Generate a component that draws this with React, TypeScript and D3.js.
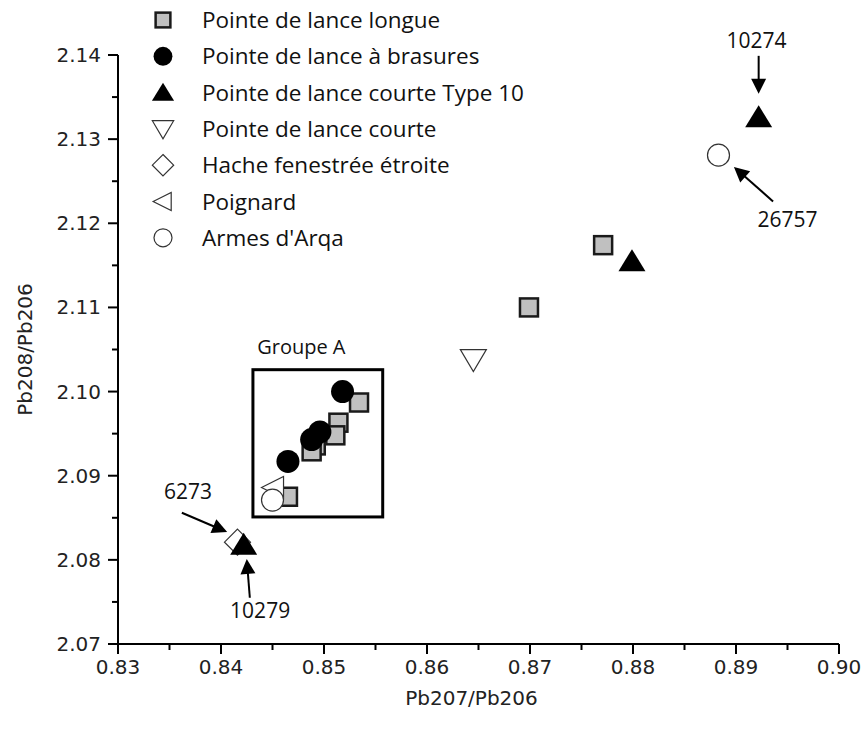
import React from "react";
import * as d3 from "d3";

// ---- data ----
const longueX = [0.8771, 0.8699, 0.8534, 0.8514, 0.8511, 0.8492, 0.8488, 0.8465];
const longueY = [2.1174, 2.11, 2.0987, 2.0963, 2.0948, 2.0936, 2.0929, 2.0875];
const brasuresX = [0.8518, 0.8496, 0.8488, 0.8465];
const brasuresY = [2.1, 2.0952, 2.0943, 2.0917];
const type10X = [0.8922, 0.8799, 0.8422];
const type10Y = [2.1326, 2.1155, 2.0818];
const courteX = [0.8645];
const courteY = [2.1038];
const hacheX = [0.8416];
const hacheY = [2.0821];
const poignardX = [0.8451];
const poignardY = [2.0886];
const arqaX = [0.8883, 0.845];
const arqaY = [2.1281, 2.0871];

const xTicks = [0.83, 0.84, 0.85, 0.86, 0.87, 0.88, 0.89, 0.9];
const yTicks = [2.07, 2.08, 2.09, 2.1, 2.11, 2.12, 2.13, 2.14];
const xMinor = [0.835, 0.845, 0.855, 0.865, 0.875, 0.885, 0.895];
const yMinor = [2.075, 2.085, 2.095, 2.105, 2.115, 2.125, 2.135];

const legendLabels = [
  "Pointe de lance longue",
  "Pointe de lance à brasures",
  "Pointe de lance courte Type 10",
  "Pointe de lance courte",
  "Hache fenestrée étroite",
  "Poignard",
  "Armes d'Arqa",
];
const legendKinds = ["square", "circle", "triUp", "triDown", "diamond", "triLeft", "hollowCircle"];

const groupBox = { x0: 0.8431, x1: 0.8557, y0: 2.0851, y1: 2.1026 };
const groupLabel = { text: "Groupe A", x: 0.8478, y: 2.1053 };

// annotations: label, label position (data), arrow from (data) to (data)
const annotations = [
  { text: "10274", lx: 0.892, ly: 2.1417, fx: 0.8922, fy: 2.1399, tx: 0.8922, ty: 2.1354 },
  { text: "26757", lx: 0.895, ly: 2.1205, fx: 0.8936, fy: 2.1226, tx: 0.8898, ty: 2.1267 },
  { text: "6273", lx: 0.8368, ly: 2.0881, fx: 0.8362, fy: 2.0856, tx: 0.8406, ty: 2.0833 },
  { text: "10279", lx: 0.8438, ly: 2.074, fx: 0.8428, fy: 2.0755, tx: 0.8425, ty: 2.0801 },
];

const W = 864;
const H = 740;
const xScale = d3.scaleLinear().domain([0.83, 0.9]).range([118, 839]);
const yScale = d3.scaleLinear().domain([2.07, 2.14]).range([644, 55]);

const LFONT = "'Open Sans', 'Noto Sans', sans-serif";
const TFONT = "'DejaVu Sans', Verdana, sans-serif";

function Marker({ kind, x, y, s = 1 }: { kind: string; x: number; y: number; s?: number }) {
  switch (kind) {
    case "square": {
      const h = 9 * s;
      return <rect x={x - h} y={y - h} width={2 * h} height={2 * h} fill="#c0c0c0" stroke="#1a1a1a" strokeWidth={2.5} />;
    }
    case "circle":
      return <circle cx={x} cy={y} r={11.5 * s} fill="#000" />;
    case "triUp": {
      const w = 13.5 * s, t = 12 * s, b = 10 * s;
      return <polygon points={`${x},${y - t} ${x + w},${y + b} ${x - w},${y + b}`} fill="#000" />;
    }
    case "triDown": {
      const w = 13 * s, t = 10 * s, b = 12 * s;
      return <polygon points={`${x - w},${y - t} ${x + w},${y - t} ${x},${y + b}`} fill="#fff" stroke="#333" strokeWidth={1.2} />;
    }
    case "diamond": {
      const h = 13 * s;
      return <polygon points={`${x},${y - h} ${x + h},${y} ${x},${y + h} ${x - h},${y}`} fill="#fff" stroke="#333" strokeWidth={1.2} />;
    }
    case "triLeft": {
      const l = 12 * s, r = 10 * s, v = 11 * s;
      return <polygon points={`${x - l},${y} ${x + r},${y - v} ${x + r},${y + v}`} fill="#fff" stroke="#333" strokeWidth={1.2} />;
    }
    case "hollowCircle":
      return <circle cx={x} cy={y} r={11 * s} fill="#fff" stroke="#333" strokeWidth={1.2} />;
  }
  return null;
}

function Arrow({ x1, y1, x2, y2 }: { x1: number; y1: number; x2: number; y2: number }) {
  const dx = x2 - x1, dy = y2 - y1;
  const len = Math.hypot(dx, dy);
  const ux = dx / len, uy = dy / len;
  const hl = 15, hw = 7.5;
  const bx = x2 - ux * hl, by = y2 - uy * hl;
  const px = -uy, py = ux;
  return (
    <g>
      <line x1={x1} y1={y1} x2={bx + ux * 2} y2={by + uy * 2} stroke="#000" strokeWidth={2} />
      <polygon points={`${x2},${y2} ${bx + px * hw},${by + py * hw} ${bx - px * hw},${by - py * hw}`} fill="#000" />
    </g>
  );
}

export default function App() {
  const series: [string, number[], number[]][] = [
    ["square", longueX, longueY],
    ["circle", brasuresX, brasuresY],
    ["diamond", hacheX, hacheY],
    ["triUp", type10X, type10Y],
    ["triDown", courteX, courteY],
    ["triLeft", poignardX, poignardY],
    ["hollowCircle", arqaX, arqaY],
  ];
  const xr = xScale.range();
  const yr = yScale.range();
  return (
    <svg width={W} height={H} style={{ display: "block", position: "absolute", left: 0, top: 0 }}>
      <rect x={0} y={0} width={W} height={H} fill="#fff" />
      {/* axes */}
      <line x1={xr[0]} y1={yr[0]} x2={xr[1]} y2={yr[0]} stroke="#000" strokeWidth={2} />
      <line x1={xr[0]} y1={yr[0]} x2={xr[0]} y2={yr[1]} stroke="#000" strokeWidth={2} />
      {xTicks.map((t) => (
        <g key={"xt" + t}>
          <line x1={xScale(t)} x2={xScale(t)} y1={yr[0]} y2={yr[0] + 10} stroke="#000" strokeWidth={2} />
          <text x={xScale(t)} y={yr[0] + 30} textAnchor="middle" fontFamily={TFONT} fontSize={20} fill="#222">
            {t.toFixed(2)}
          </text>
        </g>
      ))}
      {xMinor.map((t) => (
        <line key={"xm" + t} x1={xScale(t)} x2={xScale(t)} y1={yr[0]} y2={yr[0] + 6} stroke="#000" strokeWidth={2} />
      ))}
      {yTicks.map((t) => (
        <g key={"yt" + t}>
          <line x1={xr[0] - 10} x2={xr[0]} y1={yScale(t)} y2={yScale(t)} stroke="#000" strokeWidth={2} />
          <text x={xr[0] - 17} y={yScale(t) + 7} textAnchor="end" fontFamily={TFONT} fontSize={20} fill="#222">
            {t.toFixed(2)}
          </text>
        </g>
      ))}
      {yMinor.map((t) => (
        <line key={"ym" + t} x1={xr[0] - 6} x2={xr[0]} y1={yScale(t)} y2={yScale(t)} stroke="#000" strokeWidth={2} />
      ))}
      <text x={(xr[0] + xr[1]) / 2 - 7} y={705} textAnchor="middle" fontFamily={TFONT} fontSize={20} fill="#222">
        Pb207/Pb206
      </text>
      <text transform={`translate(32,${(yr[0] + yr[1]) / 2}) rotate(-90)`} textAnchor="middle" fontFamily={TFONT} fontSize={20} fill="#222">
        Pb208/Pb206
      </text>

      {/* group A box */}
      <rect
        x={xScale(groupBox.x0)}
        y={yScale(groupBox.y1)}
        width={xScale(groupBox.x1) - xScale(groupBox.x0)}
        height={yScale(groupBox.y0) - yScale(groupBox.y1)}
        fill="none"
        stroke="#000"
        strokeWidth={3}
      />
      <text x={xScale(groupLabel.x)} y={yScale(groupLabel.y) + 7} textAnchor="middle" fontFamily={LFONT} fontSize={20} fill="#111">
        {groupLabel.text}
      </text>

      {/* points */}
      {series.map(([kind, xs, ys]) =>
        xs.map((xv, i) => <Marker key={kind + i} kind={kind} x={xScale(xv)} y={yScale(ys[i])} />)
      )}

      {/* annotations */}
      {annotations.map((a) => (
        <g key={a.text}>
          <Arrow x1={xScale(a.fx)} y1={yScale(a.fy)} x2={xScale(a.tx)} y2={yScale(a.ty)} />
          <text x={xScale(a.lx)} y={yScale(a.ly) + 7.5} textAnchor="middle" fontFamily={LFONT} fontSize={21} fill="#111">
            {a.text}
          </text>
        </g>
      ))}

      {/* legend */}
      {legendLabels.map((lab, i) => {
        const y = 20 + i * 36.3;
        return (
          <g key={lab}>
            <Marker kind={legendKinds[i]} x={163} y={y} s={0.82} />
            <text x={202} y={y + 8} fontFamily={LFONT} fontSize={22.5} fill="#111">
              {lab}
            </text>
          </g>
        );
      })}
    </svg>
  );
}
